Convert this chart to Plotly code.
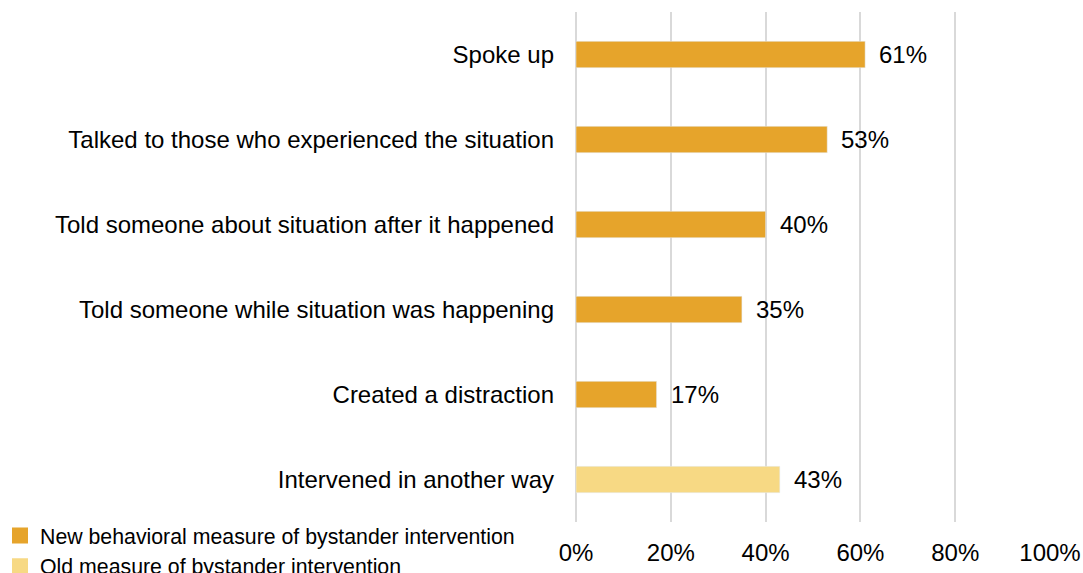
import plotly.graph_objects as go

categories_new = [
    "Spoke up",
    "Talked to those who experienced the situation",
    "Told someone about situation after it happened",
    "Told someone while situation was happening",
    "Created a distraction",
]
values_new = [61, 53, 40, 35, 17]

categories_old = ["Intervened in another way"]
values_old = [43]

all_categories = categories_new + categories_old
x_ticks = [0, 20, 40, 60, 80, 100]

NEW_COLOR = "#E6A42B"
OLD_COLOR = "#F7D984"
FONT = "Liberation Sans, Arial, sans-serif"
NEW_NAME = "New behavioral measure of bystander intervention"
OLD_NAME = "Old measure of bystander intervention"

fig = go.Figure()
for cats, vals, color in [(categories_new, values_new, NEW_COLOR),
                          (categories_old, values_old, OLD_COLOR)]:
    fig.add_trace(go.Bar(
        y=cats, x=vals, orientation="h", marker_color=color,
        width=0.31, showlegend=False,
    ))
    for c, v in zip(cats, vals):
        fig.add_annotation(
            x=v, y=c, text=f"{v}%", showarrow=False,
            xanchor="left", xshift=12, font=dict(size=24, color="#000000"),
        )

# legend entries with larger square swatches
for name, color in [(NEW_NAME, NEW_COLOR), (OLD_NAME, OLD_COLOR)]:
    fig.add_trace(go.Scatter(
        x=[None], y=[None], mode="markers", name=name,
        marker=dict(symbol="square", size=16, color=color),
    ))

fig.update_layout(
    width=1083, height=573,
    margin=dict(l=576, r=33, t=12, b=51),
    paper_bgcolor="white", plot_bgcolor="white",
    font=dict(family=FONT, size=24, color="#000000"),
    barmode="overlay",
    legend=dict(
        xref="container", yref="container", x=0.0, y=0.101,
        xanchor="left", yanchor="top",
        font=dict(size=21.3), tracegroupgap=0, itemwidth=30,
        itemsizing="trace", bgcolor="rgba(0,0,0,0)",
    ),
)
fig.update_xaxes(
    range=[0, 100], tickvals=x_ticks, ticktext=[f"{t}%" for t in x_ticks],
    showgrid=True, gridcolor="#D9D9D9", gridwidth=2,
    zeroline=True, zerolinecolor="#D9D9D9", zerolinewidth=2,
    showline=False, ticklabelstandoff=14, automargin=False, tickangle=0,
)
fig.update_yaxes(
    categoryorder="array", categoryarray=all_categories, autorange="reversed",
    showgrid=False, showline=False, ticklabelstandoff=21, automargin=False,
)

fig.write_html(
    "out.html",
    config={"displayModeBar": False},
    post_script="document.body.style.margin='0';",
)
